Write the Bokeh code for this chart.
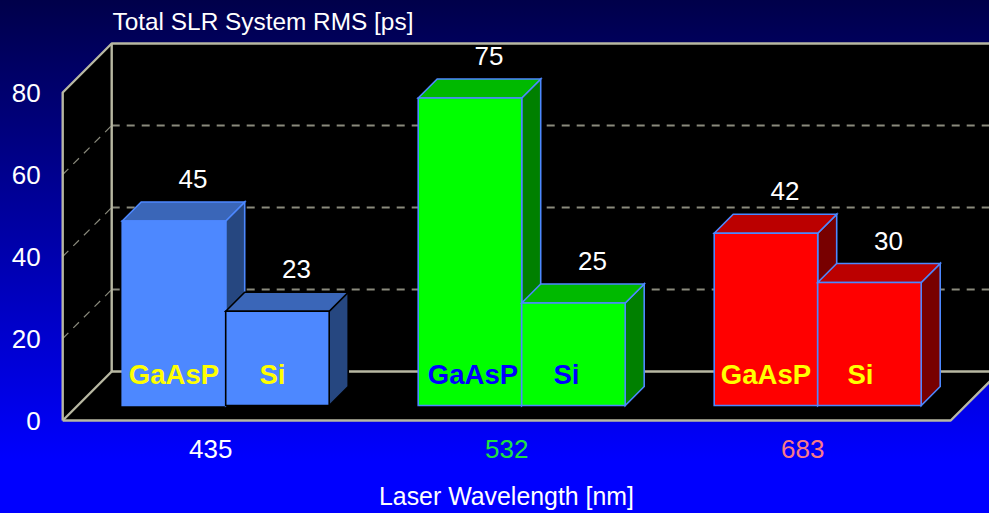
from bokeh.plotting import figure
from bokeh.models import LinearAxis, FixedTicker, Label
from bokeh.core.properties import value
from bokeh.embed import file_html
from bokeh.resources import INLINE

# --- data
wavelengths = ["435", "532", "683"]
gaasp_rms = [45, 75, 42]
si_rms = [23, 25, 30]
y_ticks = [0, 20, 40, 60, 80]
x_axis_title = "Laser Wavelength [nm]"
y_axis_title = "Total SLR System RMS [ps]"
material_names = ["GaAsP", "Si"]

# --- styles
FONT = "Liberation Sans"
front_colors = ["#4d88ff", "#00ff00", "#ff0000"]
top_colors = ["#3a66b8", "#00b900", "#bb0000"]
side_colors = ["#264780", "#008000", "#780000"]
tick_colors = ["#ffffff", "#20e040", "#f87a88"]
material_colors = ["#ffff00", "#0000ff", "#ffff00"]
si_edge_colors = ["#000000", "#4d88ff", "#4d88ff"]
WALL = "#b8b8a2"
GRID = "#8a8a7c"

# --- layout: the chart is an oblique 3D projection
W, H = 989, 513
PX_LEFT, PX_FLOOR = 62.2, 420     # pixel position of x=0, y=0 on the front plane
PX_PER_CAT, PX_PER_VAL = 296.0, 4.1
DEPTH_PX = 49
BAR_Z0, BAR_Z1 = 15 / DEPTH_PX, 34 / DEPTH_PX  # bar depth range as a fraction of floor depth
BAR_WIDTH = 103.5 / PX_PER_CAT
DX = DEPTH_PX / PX_PER_CAT
DY = DEPTH_PX / PX_PER_VAL
X_MAX = len(wavelengths)
Y_MAX = y_ticks[-1]


def proj(x, v, z):
    """Oblique projection: z is 0 at the front plane, 1 at the back wall."""
    return x + z * DX, v + z * DY


p = figure(
    width=W, height=H, toolbar_location=None, output_backend="svg",
    x_range=(-PX_LEFT / PX_PER_CAT, (W - PX_LEFT) / PX_PER_CAT),
    y_range=((PX_FLOOR - H) / PX_PER_VAL, PX_FLOOR / PX_PER_VAL),
    min_border=0, x_axis_type=None, y_axis_type=None,
    background_fill_color=None, border_fill_color=None, outline_line_color=None,
)
p.grid.visible = False

# black box: floor + side wall + back wall
box = [proj(0, 0, 0), proj(0, Y_MAX, 0), proj(0, Y_MAX, 1), proj(X_MAX, Y_MAX, 1),
       proj(X_MAX, 0, 1), proj(X_MAX, 0, 0)]
p.patch([b[0] for b in box], [b[1] for b in box], fill_color="#000000", line_color=None)

# gridlines on the side and back walls
for t in y_ticks[1:-1]:
    a, b, c = proj(0, t, 0), proj(0, t, 1), proj(X_MAX, t, 1)
    p.line([a[0], b[0]], [a[1], b[1]], line_color=GRID, line_width=1.2, line_dash="8 7")
    p.line([b[0], c[0]], [b[1], c[1]], line_color=GRID, line_width=2, line_dash="8 7")

# wall edges
edges = [
    [proj(0, 0, 0), proj(0, Y_MAX, 0), proj(0, Y_MAX, 1), proj(X_MAX, Y_MAX, 1)],
    [proj(0, Y_MAX, 1), proj(0, 0, 1), proj(X_MAX, 0, 1)],
    [proj(0, 0, 0), proj(0, 0, 1)],
    [proj(0, 0, 0), proj(X_MAX, 0, 0), proj(X_MAX, 0, 1)],
]
for e in edges:
    p.line([q[0] for q in e], [q[1] for q in e], line_color=WALL, line_width=2.4)


def bar(x0, v, i, edge_front, edge_rest):
    x1 = x0 + BAR_WIDTH
    def poly(pts, fill, edge):
        p.patch([q[0] for q in pts], [q[1] for q in pts], fill_color=fill,
                line_color=edge, line_width=1.6, line_join="miter")
    poly([proj(x1, 0, BAR_Z0), proj(x1, v, BAR_Z0), proj(x1, v, BAR_Z1), proj(x1, 0, BAR_Z1)],
         side_colors[i], edge_rest)
    poly([proj(x0, v, BAR_Z0), proj(x0, v, BAR_Z1), proj(x1, v, BAR_Z1), proj(x1, v, BAR_Z0)],
         top_colors[i], edge_rest)
    poly([proj(x0, 0, BAR_Z0), proj(x0, v, BAR_Z0), proj(x1, v, BAR_Z0), proj(x1, 0, BAR_Z0)],
         front_colors[i], edge_front)


# bars, left to right so that each Si bar covers its neighbour's side
for i, name in enumerate(wavelengths):
    centre = i + 0.5
    bar(centre - BAR_WIDTH, gaasp_rms[i], i, "#4d88ff", "#4d88ff")
    bar(centre, si_rms[i], i, si_edge_colors[i], si_edge_colors[i])

# value labels above each bar, and the material names on the front faces
for i in range(len(wavelengths)):
    centre = i + 0.5
    for x0, v in ((centre - BAR_WIDTH, gaasp_rms[i]), (centre, si_rms[i])):
        lx, ly = proj(x0 + BAR_WIDTH / 2, v, BAR_Z1)
        p.text([lx], [ly], text=[str(v)], text_color="#ffffff", text_align="center",
               text_baseline="middle", y_offset=-23, text_font=value(FONT), text_font_size="26px")
    gx, gy = proj(centre - BAR_WIDTH / 2, 0, BAR_Z0)
    sx, sy = proj(centre + BAR_WIDTH / 2, 0, BAR_Z0)
    for mx, my, name, nudge in ((gx, gy, material_names[0], [0, 3, 0][i]), (sx, sy, material_names[1], [-5, -7, -9][i])):
        p.text([mx], [my], text=[name], text_color=material_colors[i], text_align="center",
               text_baseline="middle", x_offset=nudge, y_offset=-31, text_font=value(FONT),
               text_font_style="bold", text_font_size="27.5px")

# axes sit at fixed data positions so that the frame fills the whole picture
y_axis = LinearAxis(ticker=FixedTicker(ticks=y_ticks), fixed_location=0,
                    axis_line_color=None, major_tick_line_color=None, minor_tick_line_color=None,
                    major_label_standoff=16, major_label_text_color="#ffffff",
                    major_label_text_font=FONT, major_label_text_font_size="26px")
p.add_layout(y_axis, "left")
for i, name in enumerate(wavelengths):
    x_axis = LinearAxis(ticker=FixedTicker(ticks=[i + 0.5]), fixed_location=0,
                        major_label_overrides={i + 0.5: name},
                        axis_line_color=None, major_tick_line_color=None, minor_tick_line_color=None,
                        major_label_standoff=13, major_label_text_color=tick_colors[i],
                        major_label_text_font=FONT, major_label_text_font_size="26px")
    p.add_layout(x_axis, "below")

p.add_layout(Label(x=506, y=H - 495, x_units="screen", y_units="screen", text=x_axis_title,
                   text_color="#ffffff", text_align="center", text_baseline="middle",
                   text_font=FONT, text_font_size="24.9px"))
p.add_layout(Label(x=112, y=H - 21, x_units="screen", y_units="screen", text=y_axis_title,
                   text_color="#ffffff", text_align="left", text_baseline="middle",
                   text_font=FONT, text_font_size="24.4px"))

page_css = ("<style>html,body{margin:0;padding:0;overflow:hidden;height:100%;"
            "background:linear-gradient(180deg,#00004a 0%,#0000ff 90%,#0000ff 100%);}</style>")
html = file_html(p, INLINE).replace("</head>", page_css + "</head>", 1)
open("out.html", "w").write(html)
